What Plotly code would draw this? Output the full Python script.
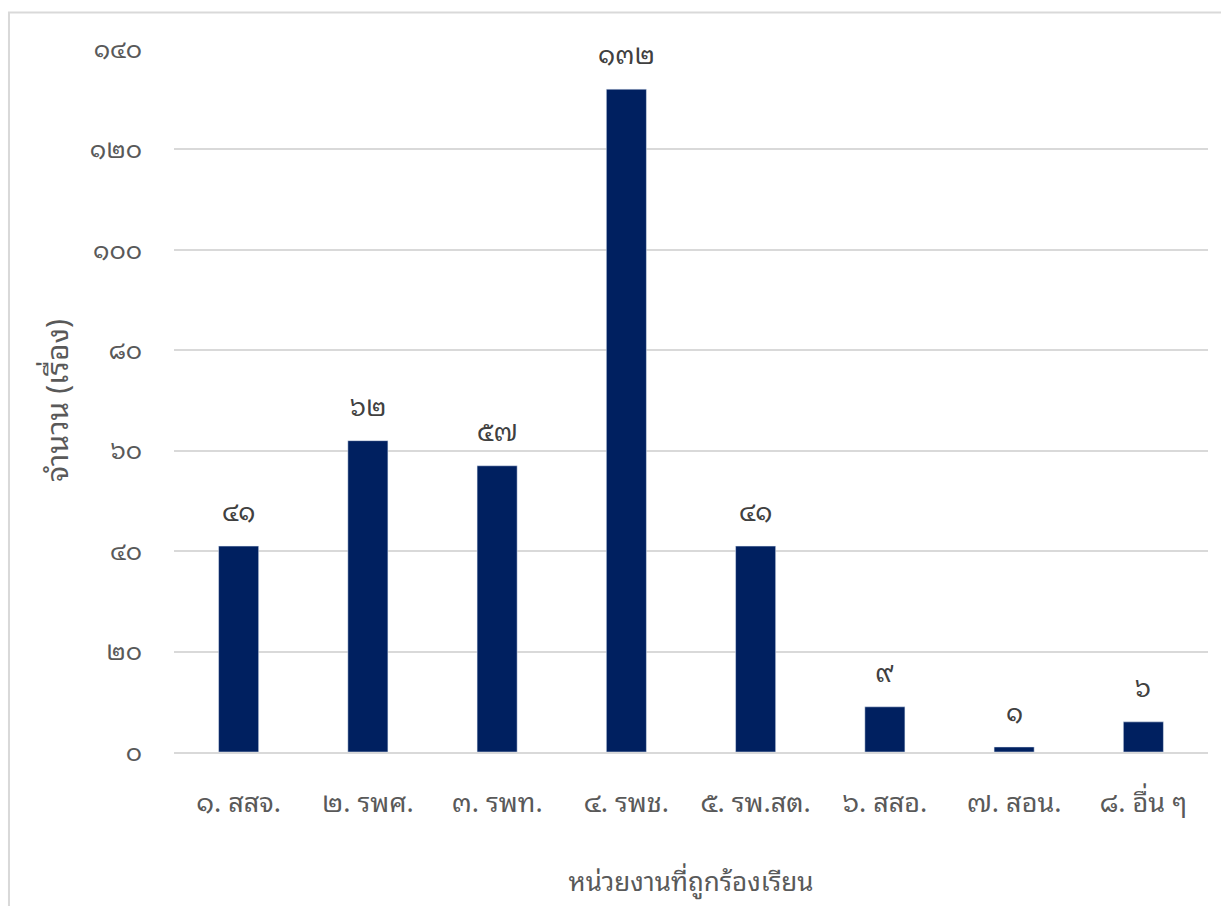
import plotly.graph_objects as go

THAI_DIGITS = "๐๑๒๓๔๕๖๗๘๙"


def thai_num(n):
    return "".join(THAI_DIGITS[int(c)] for c in str(n))


categories = ["๑. สสจ.", "๒. รพศ.", "๓. รพท.", "๔. รพช.", "๕. รพ.สต.", "๖. สสอ.", "๗. สอน.", "๘. อื่น ๆ"]
counts = [41, 62, 57, 132, 41, 9, 1, 6]
y_ticks = [0, 20, 40, 60, 80, 100, 120, 140]
y_tick_labels = [thai_num(v) for v in y_ticks]

FONT = "Noto Sans Thai Looped, Tahoma, Loma, Garuda, Noto Sans Thai, Noto Sans, sans-serif"
GREY = "#595959"
GRID = "#d9d9d9"

fig = go.Figure(
    go.Bar(
        x=categories,
        y=counts,
        marker_color="#002060",
        width=0.31,
        hoverinfo="skip",
    )
)

# value labels above each bar
for cat, val in zip(categories, counts):
    fig.add_annotation(
        x=cat, y=val, text=thai_num(val), showarrow=False,
        yanchor="bottom", yshift=14,
        font=dict(family=FONT, size=26, color="#404040"),
    )

# light frame around the chart
fig.add_shape(
    type="rect", xref="paper", yref="paper",
    x0=-0.1596, x1=1.02, y0=-0.25, y1=1.052,
    line=dict(color=GRID, width=2), fillcolor="rgba(0,0,0,0)",
)

fig.update_layout(
    width=1221, height=906,
    margin=dict(l=174, r=13, t=49, b=154),
    paper_bgcolor="white", plot_bgcolor="white",
    showlegend=False,
    font=dict(family=FONT, color=GREY),
    xaxis=dict(
        showgrid=False, showline=True, linecolor=GRID, linewidth=2,
        tickfont=dict(size=27, color=GREY), ticks="",
        ticklabelstandoff=26,
        title=dict(text="หน่วยงานที่ถูกร้องเรียน", font=dict(size=26, color=GREY), standoff=52),
    ),
    yaxis=dict(
        range=[0, 140], tickvals=y_ticks, ticktext=y_tick_labels,
        showgrid=True, gridcolor=GRID, gridwidth=2, zeroline=False,
        showline=False, ticks="",
        tickfont=dict(size=25, color=GREY),
        ticklabelstandoff=31,
        title=dict(text="จำนวน (เรื่อง)", font=dict(size=30, color=GREY), standoff=12),
    ),
)

fig.write_html("out.html")
